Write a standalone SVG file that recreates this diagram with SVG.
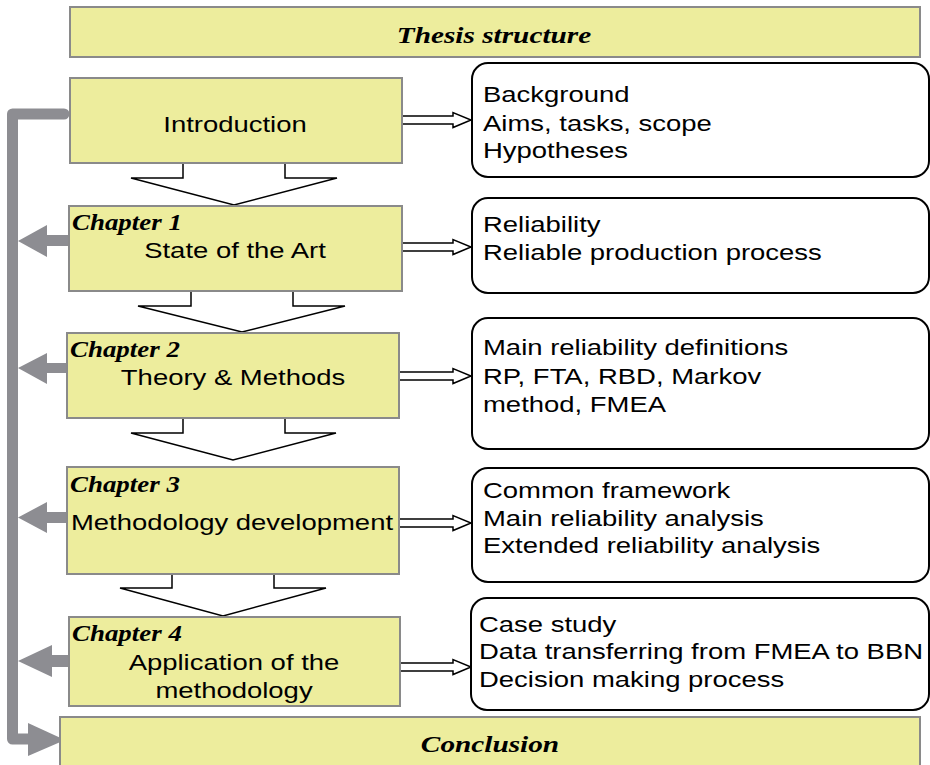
<svg xmlns="http://www.w3.org/2000/svg" width="930" height="765" viewBox="0 0 930 765">
<style>
.box{fill:#EDED9D;stroke:#8A8A8A;stroke-width:2}
.rbox{fill:#FFFFFF;stroke:#000000;stroke-width:2}
.sans{font-family:"Liberation Sans",Arial,sans-serif;font-size:22.7px;fill:#000}
.chap{font-family:"Liberation Serif","Times New Roman",serif;font-size:23px;font-weight:bold;font-style:italic;fill:#000}
.head{font-family:"Liberation Serif","Times New Roman",serif;font-size:24px;font-weight:bold;font-style:italic;fill:#000}
.down{fill:#FFFFFF;stroke:#000;stroke-width:1.5;stroke-linejoin:miter}
.hol{fill:#FFFFFF;stroke:#000;stroke-width:1.5}
.gray{fill:#8D8D92}
.gline{fill:none;stroke:#8D8D92;stroke-width:11;stroke-linejoin:round;stroke-linecap:round}
</style>
<rect width="930" height="765" fill="#FFFFFF"/>

<g id="connectors">
  <!-- feedback line -->
  <path class="gline" d="M64 114 L12.5 114 L12.5 739 L30 739"/>
  <polygon class="gray" points="28,723 65,740 28,756"/>
  <!-- gray left arrows -->
  <polygon class="gray" points="73,235 47,235 47,225 18,241 47,257 47,246 73,246"/>
  <polygon class="gray" points="73,363 47,363 47,353 18,368 47,384 47,373 73,373"/>
  <polygon class="gray" points="67,512 47,512 47,502 18,517.5 47,533 47,523 67,523"/>
  <polygon class="gray" points="70,655 52,655 52,645 18,661 52,677 52,667 70,667"/>
  <!-- down arrows -->
  <polygon class="down" points="183,163 285,163 285,178 337,178 234,205 131,178 183,178"/>
  <polygon class="down" points="191,291 293,291 293,306 345,306 242,332 138,306 191,306"/>
  <polygon class="down" points="183,418 285,418 285,433 336,433 233,460 131,433 183,433"/>
  <polygon class="down" points="172,574 274,574 274,588 326,588 223,616 120,588 172,588"/>
  <!-- hollow right arrows -->
  <polygon class="hol" points="398,116 453,116 453,112.5 471,120 453,127.5 453,124 398,124"/>
  <polygon class="hol" points="398,243 453,243 453,239.5 471,247 453,254.5 453,251 398,251"/>
  <polygon class="hol" points="398,372 453,372 453,368.5 471,376 453,383.5 453,380 398,380"/>
  <polygon class="hol" points="396,519 453,519 453,515.5 471,523 453,530.5 453,527 396,527"/>
  <polygon class="hol" points="399,663 453,663 453,659.5 471,667 453,674.5 453,671 399,671"/>
</g>

<g id="title">
  <rect class="box" x="70" y="7" width="850" height="50"/>
  <text class="head" text-anchor="middle" transform="translate(494 43) scale(1.22 1)">Thesis structure</text>
</g>

<g id="introduction">
  <rect class="box" x="70" y="78" width="332" height="85"/>
  <text class="sans" text-anchor="middle" transform="translate(235 132) scale(1.21 1)">Introduction</text>
</g>

<g id="chapter1">
  <rect class="box" x="69" y="206" width="333" height="85"/>
  <text class="chap" transform="translate(72 230) scale(1.17 1)">Chapter 1</text>
  <text class="sans" text-anchor="middle" transform="translate(235 258) scale(1.21 1)">State of the Art</text>
</g>

<g id="chapter2">
  <rect class="box" x="67" y="333" width="332" height="85"/>
  <text class="chap" transform="translate(70 357) scale(1.17 1)">Chapter 2</text>
  <text class="sans" text-anchor="middle" transform="translate(233 385) scale(1.21 1)">Theory &amp; Methods</text>
</g>

<g id="chapter3">
  <rect class="box" x="67" y="467" width="332" height="107"/>
  <text class="chap" transform="translate(70 492) scale(1.17 1)">Chapter 3</text>
  <text class="sans" text-anchor="middle" transform="translate(232 530) scale(1.21 1)">Methodology development</text>
</g>

<g id="chapter4">
  <rect class="box" x="69" y="617" width="331" height="89"/>
  <text class="chap" transform="translate(72 641) scale(1.17 1)">Chapter 4</text>
  <text class="sans" text-anchor="middle" transform="translate(234 670) scale(1.21 1)">Application of the</text>
  <text class="sans" text-anchor="middle" transform="translate(234 698) scale(1.21 1)">methodology</text>
</g>

<g id="conclusion">
  <rect class="box" x="60" y="717" width="860" height="60"/>
  <text class="head" text-anchor="middle" transform="translate(490 752) scale(1.22 1)">Conclusion</text>
</g>

<g id="detail-intro">
  <rect class="rbox" x="472" y="63" width="457" height="114" rx="16"/>
  <text class="sans" transform="translate(483 102) scale(1.21 1)">Background</text>
  <text class="sans" transform="translate(483 131) scale(1.21 1)">Aims, tasks, scope</text>
  <text class="sans" transform="translate(483 158) scale(1.21 1)">Hypotheses</text>
</g>

<g id="detail-ch1">
  <rect class="rbox" x="472" y="198" width="457" height="95" rx="16"/>
  <text class="sans" transform="translate(483 232) scale(1.21 1)">Reliability</text>
  <text class="sans" transform="translate(483 260) scale(1.21 1)">Reliable production process</text>
</g>

<g id="detail-ch2">
  <rect class="rbox" x="472" y="318" width="457" height="131" rx="16"/>
  <text class="sans" transform="translate(483 355) scale(1.21 1)">Main reliability definitions</text>
  <text class="sans" transform="translate(483 384) scale(1.21 1)">RP, FTA, RBD, Markov</text>
  <text class="sans" transform="translate(483 412) scale(1.21 1)">method, FMEA</text>
</g>

<g id="detail-ch3">
  <rect class="rbox" x="472" y="468" width="457" height="114" rx="16"/>
  <text class="sans" transform="translate(483 498) scale(1.21 1)">Common framework</text>
  <text class="sans" transform="translate(483 526) scale(1.21 1)">Main reliability analysis</text>
  <text class="sans" transform="translate(483 553) scale(1.21 1)">Extended reliability analysis</text>
</g>

<g id="detail-ch4">
  <rect class="rbox" x="471" y="598" width="458" height="112" rx="16"/>
  <text class="sans" transform="translate(479 632) scale(1.21 1)">Case study</text>
  <text class="sans" transform="translate(479 659) scale(1.21 1)">Data transferring from FMEA to BBN</text>
  <text class="sans" transform="translate(479 687) scale(1.21 1)">Decision making process</text>
</g>
</svg>
